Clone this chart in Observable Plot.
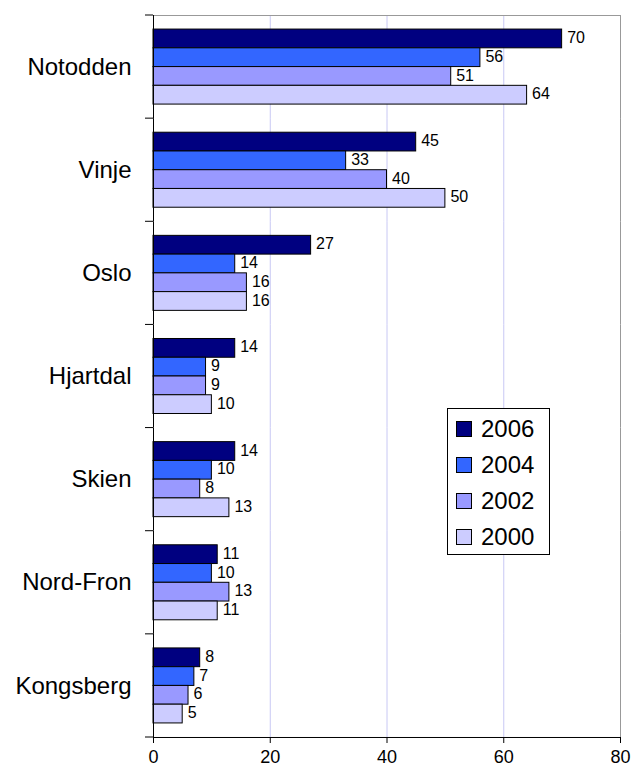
<!DOCTYPE html>
<html>
<head>
<meta charset="utf-8">
<script src="https://cdn.jsdelivr.net/npm/d3@7"></script>
<script src="https://cdn.jsdelivr.net/npm/@observablehq/plot@0.6"></script>
<style>
  body { margin: 0; background: #fff; font-family: "Liberation Sans", Arial, sans-serif; }
  #wrap { position: relative; width: 633px; height: 776px; }
  #legend { position: absolute; left: 447px; top: 408px; width: 93px; height: 143px;
    border: 1px solid #000; background: #fff; padding: 2px 0 0 8px; box-sizing: content-box; }
  #legend .row { display: flex; align-items: center; height: 36px; font-size: 24px; color: #000; }
  #legend .sw { width: 14px; height: 14px; border: 1px solid #000; margin-right: 9px; }
</style>
</head>
<body>
<div id="wrap"></div>
<script>
const categories = ["Notodden", "Vinje", "Oslo", "Hjartdal", "Skien", "Nord-Fron", "Kongsberg"];
const years = ["2006", "2004", "2002", "2000"];
const values2006 = [70, 45, 27, 14, 14, 11, 8];
const values2004 = [56, 33, 14, 9, 10, 10, 7];
const values2002 = [51, 40, 16, 9, 8, 13, 6];
const values2000 = [64, 50, 16, 10, 13, 11, 5];
const xTicks = [0, 20, 40, 60, 80];
const colors = ["#000080", "#3366FF", "#9999FF", "#CCCCFF"];

const series = [values2006, values2004, values2002, values2000];
const data = [];
categories.forEach((c, i) => years.forEach((y, j) => data.push({cat: c, year: y, value: series[j][i]})));

const plot = Plot.plot({
  width: 633,
  height: 776,
  marginLeft: 153,
  marginRight: 13,
  marginTop: 15,
  marginBottom: 39,
  style: {fontFamily: "'Liberation Sans', Arial, sans-serif", background: "white", color: "#000"},
  x: {domain: [0, 80], label: null},
  fy: {domain: categories, padding: 0, round: false, label: null},
  y: {domain: years, paddingInner: 0, paddingOuter: 0.75, round: false, axis: null},
  color: {domain: years, range: colors},
  marks: [
    Plot.gridX({ticks: xTicks.slice(1, -1), stroke: "#c8c8f4", strokeOpacity: 1}),
    Plot.ruleX([80], {stroke: "#999"}),
    Plot.frame({anchor: "top", facetAnchor: "top", stroke: "#999"}),
    Plot.barX(data, {x: "value", y: "year", fy: "cat", fill: "year", stroke: "#000", strokeWidth: 1, inset: 0}),
    Plot.text(data, {x: "value", y: "year", fy: "cat", text: d => String(d.value), textAnchor: "start", dx: 5, dy: -1, fontSize: 16, fill: "#000"}),
    Plot.ruleX([0], {stroke: "#000"}),
    Plot.frame({anchor: "bottom", facetAnchor: "bottom", stroke: "#000"}),
    Plot.axisX({ticks: xTicks, tickSize: 6, tickPadding: 7, fontSize: 18, label: null, stroke: "#000"}),
    Plot.axisFy({anchor: "left", tickSize: 0, tickPadding: 22, fontSize: 24, label: null})
  ]
});

document.getElementById("wrap").appendChild(plot);

// Category separator ticks on the left axis, positioned from the fy scale
const fy = plot.scale("fy");
const xs = plot.scale("x");
const x0 = xs.apply(0);
const bounds = categories.map(c => fy.apply(c));
bounds.push(fy.apply(categories[categories.length - 1]) + fy.bandwidth);
d3.select(plot).append("g")
  .selectAll("line").data(bounds).join("line")
  .attr("x1", x0 - 8).attr("x2", x0)
  .attr("y1", d => d).attr("y2", d => d)
  .attr("stroke", "#000");

// Legend
const legend = document.createElement("div");
legend.id = "legend";
years.forEach((y, i) => {
  const row = document.createElement("div");
  row.className = "row";
  const sw = document.createElement("div");
  sw.className = "sw";
  sw.style.background = colors[i];
  const t = document.createElement("span");
  t.textContent = y;
  row.appendChild(sw);
  row.appendChild(t);
  legend.appendChild(row);
});
document.getElementById("wrap").appendChild(legend);
</script>
</body>
</html>
